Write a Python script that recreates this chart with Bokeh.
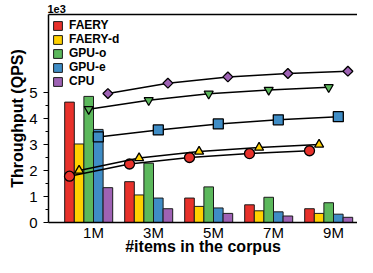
import numpy as np
from bokeh.plotting import figure
from bokeh.models import (Legend, LegendItem, LinearAxis, FixedTicker, Range1d)
from bokeh.embed import file_html
from bokeh.resources import INLINE

categories = ["1M", "3M", "5M", "7M", "9M"]
series = ["FAERY", "FAERY-d", "GPU-o", "GPU-e", "CPU"]
colors = ["#e8312b", "#ffd000", "#5cb85c", "#3f8dc6", "#9e62b4"]

# bar values (x1e3 QPS)
faery_bar = [4.63, 1.57, 0.94, 0.68, 0.53]
faeryd_bar = [3.02, 1.06, 0.62, 0.45, 0.35]
gpuo_bar = [4.85, 2.28, 1.37, 0.97, 0.76]
gpue_bar = [3.58, 0.94, 0.56, 0.41, 0.32]
cpu_bar = [1.34, 0.53, 0.35, 0.25, 0.20]

# line values (x1e3 QPS)
faery_line = [1.78, 2.25, 2.50, 2.65, 2.76]
faeryd_line = [2.00, 2.48, 2.73, 2.88, 3.00]
gpuo_line = [4.36, 4.70, 4.95, 5.10, 5.20]
gpue_line = [3.29, 3.56, 3.79, 3.95, 4.07]
cpu_line = [4.96, 5.36, 5.60, 5.73, 5.82]

y_ticks = [0, 1, 2, 3, 4, 5]

bars = [faery_bar, faeryd_bar, gpuo_bar, gpue_bar, cpu_bar]
lines = [faery_line, faeryd_line, gpuo_line, gpue_line, cpu_line]
markers = ["circle", "triangle", "inverted_triangle", "square", "square"]
msizes = [10, 9, 9, 10, 7]
mangles = [0, 0, 0, 0, np.pi / 4]

FONT = "Liberation Sans"

p = figure(width=357, height=257, output_backend="svg", toolbar_location=None,
           x_range=Range1d(-0.75, 4.40), y_range=Range1d(0, 8),
           min_border_left=48, min_border_right=0, min_border_top=0,
           min_border_bottom=0, title="1e3")
p.outline_line_color = None
p.grid.visible = False
p.background_fill_color = "white"
p.border_fill_color = "white"

p.title.align = "left"
p.title.text_font = FONT
p.title.text_font_size = "11px"
p.title.text_font_style = "bold"
p.title.text_color = "black"
p.title.standoff = 4
p.title.offset = -1

base = np.arange(len(categories))
width = 0.16
legend_items = []
for k, (vals, name, col) in enumerate(zip(bars, series, colors)):
    xs = base - 0.4 + k * width
    r = p.vbar(x=xs, top=vals, width=width, fill_color=col,
               line_color="#1a1a1a", line_width=1)
    legend_items.append(LegendItem(label=name, renderers=[r]))

for k, (vals, col) in enumerate(zip(lines, colors)):
    xs = base - 0.4 + k * width
    p.line(xs, vals, line_color="black", line_width=1.5)
    p.scatter(xs, vals, marker=markers[k], size=msizes[k], angle=mangles[k],
              fill_color=col, line_color="black", line_width=1.3)

# axes
xa = p.xaxis[0]
xa.ticker = FixedTicker(ticks=list(base))
xa.major_label_overrides = {int(i): c for i, c in zip(base, categories)}
xa.major_tick_line_color = None
xa.minor_tick_line_color = None
xa.axis_line_width = 1.5
xa.axis_line_color = "black"
xa.major_label_text_font = FONT
xa.major_label_text_font_size = "15px"
xa.major_label_text_color = "black"
xa.major_label_standoff = -5
xa.axis_label = "#items in the corpus"
xa.axis_label_text_font = FONT
xa.axis_label_text_font_size = "16px"
xa.axis_label_text_font_style = "bold"
xa.axis_label_text_color = "black"
xa.axis_label_standoff = -6

ya = p.yaxis[0]
ya.ticker = FixedTicker(ticks=y_ticks, minor_ticks=[t + 0.5 for t in y_ticks[:-1]])
ya.axis_line_width = 1.5
ya.axis_line_color = "black"
ya.major_tick_out = 5
ya.major_tick_in = 0
ya.minor_tick_out = 3
ya.minor_tick_in = 0
ya.major_tick_line_width = 1.2
ya.minor_tick_line_width = 1
ya.major_label_text_font = FONT
ya.major_label_text_font_size = "15px"
ya.major_label_text_color = "black"
ya.major_label_standoff = 6
ya.axis_label = "Throughput (QPS)"
ya.axis_label_text_font = FONT
ya.axis_label_text_font_size = "16px"
ya.axis_label_text_font_style = "bold"
ya.axis_label_text_color = "black"
ya.axis_label_standoff = 0

top = LinearAxis(ticker=FixedTicker(ticks=[]), axis_line_width=1.5,
                 axis_line_color="black", major_tick_line_color=None,
                 minor_tick_line_color=None)
p.add_layout(top, "above")

legend = Legend(items=legend_items, location="top_left",
                label_text_font=FONT, label_text_font_size="12px",
                label_text_font_style="bold", label_text_color="black",
                glyph_width=11, glyph_height=11, label_height=11,
                spacing=0, padding=0, margin=4, label_standoff=6,
                background_fill_alpha=0, border_line_color=None)
p.add_layout(legend)

open("out.html", "w").write(file_html(p, INLINE))
